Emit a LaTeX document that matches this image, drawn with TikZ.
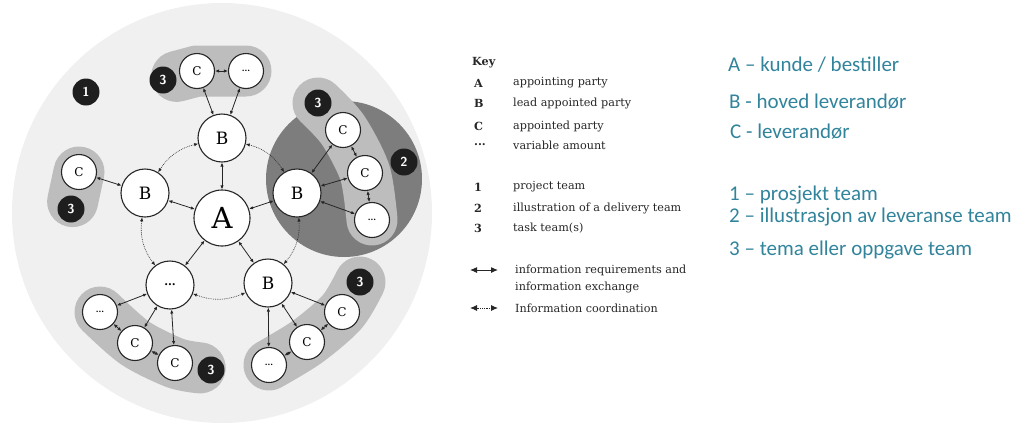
\documentclass[tikz,border=0pt]{standalone}
\usepackage{fontspec}
\newfontfamily\keyfont{DejaVu Serif}
\newfontfamily\slidefont{Carlito}
\usetikzlibrary{arrows.meta,backgrounds,calc}
\definecolor{teamgray}{HTML}{F0F0F0}
\definecolor{taskgray}{HTML}{BDBDBD}
\definecolor{deliverygray}{HTML}{7D7D7D}
\definecolor{badgeblack}{HTML}{1E1E1E}
\definecolor{slideteal}{HTML}{31849B}
\newcommand\keydots{...}
\tikzset{
  party/.style={circle, draw=black!85, line width=1.1pt, fill=white, inner sep=0pt},
  partyA/.style={party, minimum size=56pt, font=\keyfont\fontsize{29}{29}\selectfont},
  partyB/.style={party, minimum size=48pt, font=\keyfont\fontsize{17}{17}\selectfont},
  partyC/.style={party, minimum size=35pt, font=\keyfont\fontsize{12}{12}\selectfont},
  badge/.style={circle, fill=badgeblack, text=white, minimum size=27pt, inner sep=0pt,
    font=\sffamily\bfseries\fontsize{13}{13}\selectfont},
  exchange/.style={{Latex[length=4pt,width=3.4pt]}-{Latex[length=4pt,width=3.4pt]}, line width=0.8pt, black!85},
  coordination/.style={exchange, densely dotted, line width=0.6pt},
  tasktrack/.style={taskgray, line width=51pt, line cap=round, line join=round},
  keytext/.style={anchor=west, inner sep=0pt, text=black!85, font=\keyfont\fontsize{11.2}{12}\selectfont},
  keylabel/.style={keytext, font=\keyfont\fontsize{11.2}{12}\selectfont\bfseries},
  slidetext/.style={anchor=west, inner sep=0pt, text=slideteal, font=\slidefont\fontsize{21}{24}\selectfont},
}
\begin{document}
\begin{tikzpicture}[x=1pt,y=-1pt]
    \useasboundingbox (0,0) rectangle (1021,429);

    % Parter
    \node[partyA] (A) at (222,218) {A};
    \node[partyB] (Btop) at (222,138) {B};
    \node[partyB] (Bleft) at (145,193) {B};
    \node[partyB] (Bright) at (297,193) {B};
    \node[partyB] (Bdots) at (170,285) {\fontsize{11}{11}\selectfont\textbf{\keydots}};
    \node[partyB] (Bbr) at (268,283) {B};

    \node[partyC] (Ctop) at (197,71) {C};
    \node[partyC] (Dtop) at (246,71) {\fontsize{8}{8}\selectfont\textbf{\keydots}};
    \node[partyC] (Cleft) at (79,172) {C};
    \node[partyC] (Cr1) at (343,130) {C};
    \node[partyC] (Cr2) at (365,173) {C};
    \node[partyC] (Dr) at (372,220) {\fontsize{8}{8}\selectfont\textbf{\keydots}};
    \node[partyC] (Dbl) at (100,312) {\fontsize{8}{8}\selectfont\textbf{\keydots}};
    \node[partyC] (Cbl1) at (135,343) {C};
    \node[partyC] (Cbl2) at (175,363) {C};
    \node[partyC] (Cbr1) at (342,312) {C};
    \node[partyC] (Cbr2) at (307,342) {C};
    \node[partyC] (Dbr) at (269,365) {\fontsize{8}{8}\selectfont\textbf{\keydots}};

    % Merker 1, 2, 3
    \node[badge] (team1) at (86,92) {1};
    \node[badge] (team2) at (404,162) {2};
    \node[badge] (task1) at (163,80) {3};
    \node[badge] (task2) at (71,209) {3};
    \node[badge] (task3) at (318,103) {3};
    \node[badge] (task4) at (360,282) {3};
    \node[badge] (task5) at (211,370) {3};

    % Bakgrunn: prosjektteam, leveranseteam, oppgaveteam
    \begin{scope}[on background layer]
        \fill[teamgray] (222,213) circle (210);
        \fill[deliverygray] (344,179) circle (78);
        \draw[tasktrack] ($(task1)!0.4!(Ctop)$) -- (Ctop.center) -- (Dtop.center);
        \draw[tasktrack] (Cleft.center) -- ($(Cleft)!0.8!(task2)$);
        \draw[tasktrack] plot[smooth] coordinates {(task3.center) (Cr1.center) (Cr2.center) (Dr.center)};
        \draw[tasktrack] plot[smooth] coordinates {(Dbl.center) (Cbl1.center) (Cbl2.center) ($(Cbl2)!0.7!(task5)$)};
        \draw[tasktrack] plot[smooth] coordinates {(Dbr.center) (Cbr2.center) (Cbr1.center) (task4.center)};
    \end{scope}

    % Informasjonsutveksling
    \foreach \n in {Btop,Bleft,Bright,Bdots,Bbr}
        \draw[exchange] (A) -- (\n);
    \draw[exchange] (Btop) -- (Ctop);
    \draw[exchange] (Btop) -- (Dtop);
    \draw[exchange] (Ctop) -- (Dtop);
    \draw[exchange] (Bleft) -- (Cleft);
    \draw[exchange] (Bright) -- (Cr1);
    \draw[exchange] (Bright) -- (Cr2);
    \draw[exchange] (Bright) -- (Dr);
    \draw[exchange] (Cr1) -- (Cr2);
    \draw[exchange] (Cr2) -- (Dr);
    \draw[exchange] (Bdots) -- (Dbl);
    \draw[exchange] (Bdots) -- (Cbl1);
    \draw[exchange] (Bdots) -- (Cbl2);
    \draw[exchange] (Dbl) -- (Cbl1);
    \draw[exchange] (Cbl1) -- (Cbl2);
    \draw[exchange] (Bbr) -- (Cbr1);
    \draw[exchange] (Bbr) -- (Cbr2);
    \draw[exchange] (Bbr) -- (Dbr);
    \draw[exchange] (Cbr1) -- (Cbr2);
    \draw[exchange] (Cbr2) -- (Dbr);

    % Informasjonskoordinering
    \draw[coordination] (Btop) to[bend left=22] (Bright);
    \draw[coordination] (Bright) to[bend left=22] (Bbr);
    \draw[coordination] (Bbr) to[bend left=22] (Bdots);
    \draw[coordination] (Bdots) to[bend left=22] (Bleft);
    \draw[coordination] (Bleft) to[bend left=22] (Btop);

    % Key
    \node[keylabel] (keyhead) at (472,63) {Key};
    \foreach \y/\k/\t [count=\i] in {83/A/appointing party, 103/B/lead appointed party,
        126/C/appointed party, 145/\keydots/variable amount, 187/1/project team,
        208/2/illustration of a delivery team, 228/3/task team(s)} {
        \node[keylabel] (keyk\i) at (474,\y) {\k};
        \node[keytext] (keyt\i) at (513,\y) {\t};
    }
    \coordinate (keyS1) at (470,270);
    \coordinate (keyE1) at (498,270);
    \coordinate (keyS2) at (470,308);
    \coordinate (keyE2) at (498,308);
    \draw[exchange, line width=1pt, {Latex[length=7pt,width=6pt]}-{Latex[length=7pt,width=6pt]}] (keyS1) -- (keyE1);
    \draw[coordination, line width=0.9pt, {Latex[length=7pt,width=6pt]}-{Latex[length=7pt,width=6pt]}] (keyS2) -- (keyE2);
    \node[keytext] (keyx1) at (515,270) {information requirements and};
    \node[keytext] (keyx2) at (515,287) {information exchange};
    \node[keytext] (keyx3) at (515,308) {Information coordination};

    % Norsk forklaring
    \node[slidetext] (noA) at (728,65) {A – kunde / bestiller};
    \node[slidetext] (noB) at (729,102) {B - hoved leverandør};
    \node[slidetext] (noC) at (730,132) {C - leverandør};
    \node[slidetext] (no1) at (729,195) {1 – prosjekt team};
    \node[slidetext] (no2) at (729,217) {2 – illustrasjon av leveranse team};
    \node[slidetext] (no3) at (729,250) {3 – tema eller oppgave team};
\end{tikzpicture}
\end{document}
